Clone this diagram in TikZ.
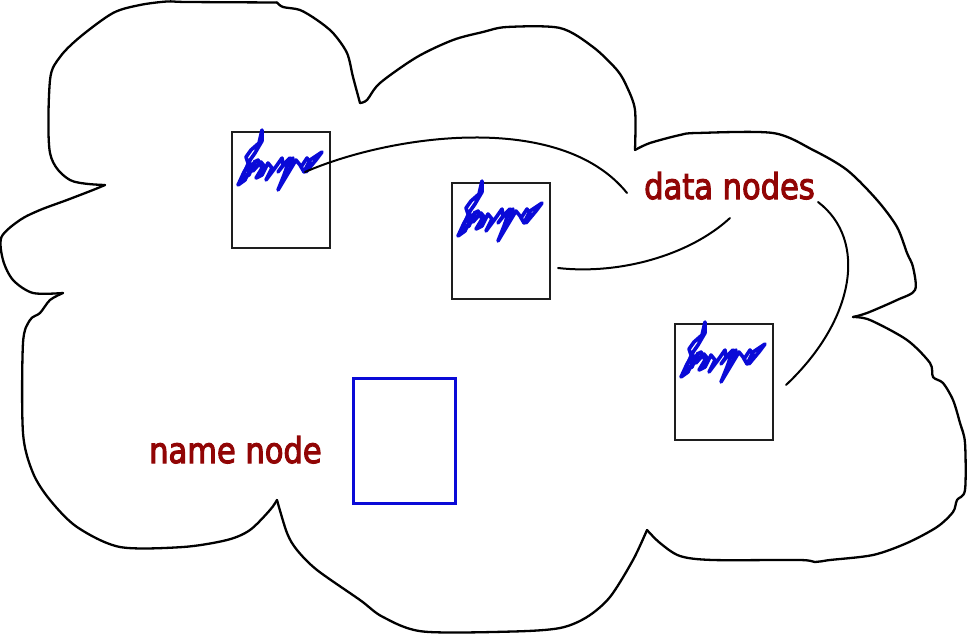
\documentclass[tikz,border=0pt]{standalone}
\usepackage{fontspec}
\newfontfamily\labfont[FakeStretch=0.86,FakeBold=3]{DejaVu Sans}
\definecolor{labred}{RGB}{145,5,5}
\definecolor{scrblue}{RGB}{10,10,215}
\definecolor{boxgray}{RGB}{30,30,30}
\begin{document}
\begin{tikzpicture}[x=1pt,y=-1pt,
  cloud/.style={draw=black,line width=2.3pt,line join=round,line cap=round},
  dbox/.style={draw=boxgray,line width=2.1pt,inner sep=0pt,minimum width=98pt,minimum height=116pt,anchor=north west},
  nbox/.style={draw=scrblue,line width=3.4pt,inner sep=0pt,minimum width=102pt,minimum height=125pt,anchor=north west},
  conn/.style={draw=black,line width=2pt,line cap=round},
  lab/.style={text=labred,font=\labfont\fontsize{35.5}{40}\selectfont,inner sep=0pt,anchor=base west},
  scrib/.style={draw=scrblue,line width=3.6pt,line join=round,line cap=round},
  scribble/.pic={
    \draw[scrib] (31,-1) -- (28,12) -- (20,19) -- (15,26) -- (17,32) -- (24,22) -- (31,10) -- cycle;
    \draw[scrib] (19,31) -- (13,41) -- (7,54) -- (14,49) -- (21,34) -- (27,29) -- (31,37) -- (25,47)
      -- (31,44) -- (37,32) -- (41,37) -- (35,49) -- (44,37) -- (51,27) -- (52,34) -- (47,41)
      -- (55,31) -- (59,27) -- (53,44) -- (47,59) -- (59,39) -- (65,29) -- (69,34) -- (73,41)
      -- (79,29) -- (91,21) -- (85,29) -- (75,41);
    \draw[scrib] (17,33) -- (11,47) -- (18,44) -- (24,30) -- (22,40) -- (28,33);
    \draw[scrib] (23,38) -- (30,31) -- (34,36) -- (27,46);
    \draw[scrib] (57,32) -- (62,27) -- (58,40);
    \draw[scrib] (70,36) -- (76,27) -- (80,33);
    \coordinate (-tail) at (74,41);
  }
]
\useasboundingbox (0,0) rectangle (968,634);

% cloud outline
\draw[cloud] plot[smooth,tension=0.5] coordinates {(105,185) (70,180) (50,153) (50,80) (60,57) (80,37) (113,13) (140,5) (167,1.5) (187,2) (277,2.5)};
\draw[cloud] plot[smooth,tension=0.5] coordinates {(277,2.5) (283,7) (300,10) (317,20) (333,33) (347,53) (353,77) (360,103)};
\draw[cloud] plot[smooth,tension=0.5] coordinates {(360,103) (367,100) (380,83) (417,57) (453,40) (483,32) (507,27) (560,28) (593,47) (617,70) (627,87) (635,110) (635,150)};
\draw[cloud] plot[smooth,tension=0.5] coordinates {(635,150) (650,143) (680,135) (697,133) (773,133) (813,150) (847,170) (877,200) (897,227) (907,253) (913,267) (915,290) (897,300) (867,313) (853,317)};
\draw[cloud] plot[smooth,tension=0.5] coordinates {(853,317) (870,320) (907,340) (930,363) (933,377) (943,383) (953,400) (960,423) (965,443) (965,490) (957,500) (953,512) (937,527) (907,543) (873,555) (830,560) (815,562) (800,560) (713,560) (680,556) (660,543) (647,530)};
\draw[cloud] plot[smooth,tension=0.5] coordinates {(647,530) (633,560) (610,597) (587,617) (560,628) (513,631.5) (423,631.5) (383,617) (360,600) (317,570) (297,550) (287,533) (277,500)};
\draw[cloud] plot[smooth,tension=0.5] coordinates {(277,500) (270,510) (250,530) (227,540) (183,547) (120,547) (77,527) (50,500) (33,473) (23,433) (23,343) (30,320) (40,313) (50,300) (63,293)};
\draw[cloud] plot[smooth,tension=0.5] coordinates {(63,293) (33,293) (13,280) (3,260) (1.5,237) (20,220) (40,210) (67,200) (93,190) (105,185)};

% data node boxes
\node[dbox] (d1) at (231,131) {};
\node[dbox] (d2) at (451,182) {};
\node[dbox] (d3) at (674,323) {};
\pic (p1) at (d1.north west) {scribble};
\pic (p2) at (d2.north west) {scribble};
\pic (p3) at (d3.north west) {scribble};

% name node box
\node[nbox] (nn) at (352,377) {};

% labels
\node[lab] (dlab) at (644,199) {data nodes};
\node[lab] (nlab) at (149,463) {name node};

% connector ends
\coordinate (a1) at (627,193);
\coordinate (a2) at (730,218);
\coordinate (b2) at (558,268);
\coordinate (a3) at (818,202);
\coordinate (b3) at (786,385);

\draw[conn] (p1-tail) .. controls (390,135) and (560,110) .. (a1);
\draw[conn] (b2) .. controls (620,275) and (690,255) .. (a2);
\draw[conn] (a3) .. controls (868,240) and (855,320) .. (b3);
\end{tikzpicture}
\end{document}
